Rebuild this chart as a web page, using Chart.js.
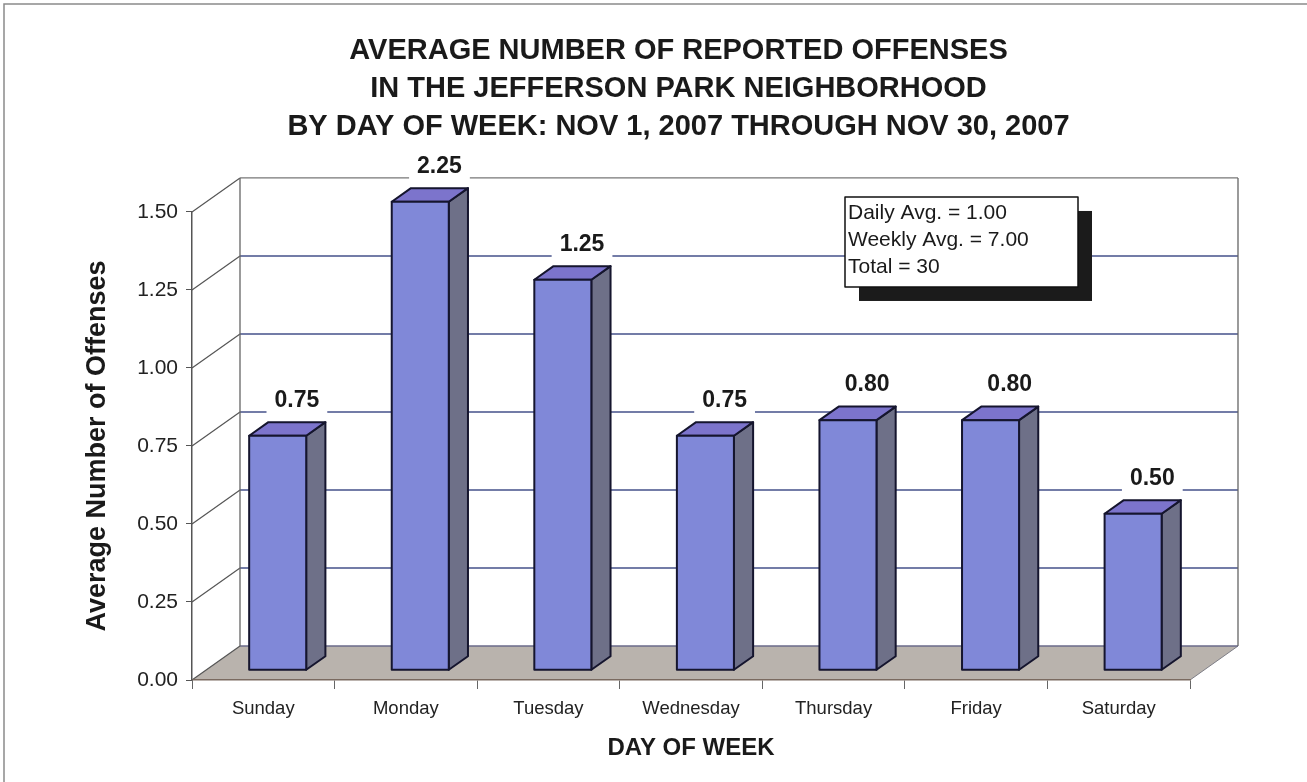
<!DOCTYPE html>
<html>
<head>
<meta charset="utf-8">
<script src="https://cdn.jsdelivr.net/npm/chart.js@4.4.1/dist/chart.umd.min.js"></script>
<style>
  html, body { margin: 0; padding: 0; background: #fff; }
  canvas { display: block; }
</style>
</head>
<body>
<canvas id="myChart" width="1307" height="782"></canvas>
<script>
// data
var days = ['Sunday', 'Monday', 'Tuesday', 'Wednesday', 'Thursday', 'Friday', 'Saturday'];
var avgOffenses = [0.75, 2.25, 1.25, 0.75, 0.80, 0.80, 0.50];
var yMin = 0;
var yMax = 1.5;
var yStep = 0.25;
var titleLines = [
  'AVERAGE NUMBER OF REPORTED OFFENSES',
  'IN THE JEFFERSON PARK NEIGHBORHOOD',
  'BY DAY OF WEEK: NOV 1, 2007 THROUGH NOV 30, 2007'
];
var statLines = ['Daily Avg. = 1.00', 'Weekly Avg. = 7.00', 'Total = 30'];

Chart.defaults.font.family = "'Liberation Sans', Arial, sans-serif";
Chart.defaults.color = '#1a1a1a';

// fake 3d: depth of the whole box, bars sit between 30% and 70% of it
var wallDepth = { dx: 48, dy: -34 };
var barFront = 0.3;
var barBack = 0.7;

const threeD = {
  id: 'threeD',
  beforeDraw(chart) {
    const ctx = chart.ctx;
    const area = chart.chartArea;
    const y = chart.scales.y;
    const dx = wallDepth.dx, dy = wallDepth.dy;

    ctx.save();
    // outer frame
    ctx.strokeStyle = '#8a8a8a';
    ctx.lineWidth = 1.5;
    ctx.strokeRect(4, 4, 1400, 900);

    // floor
    const y0 = y.getPixelForValue(yMin);
    ctx.fillStyle = '#b9b3ad';
    ctx.beginPath();
    ctx.moveTo(area.left, y0);
    ctx.lineTo(area.right, y0);
    ctx.lineTo(area.right + dx, y0 + dy);
    ctx.lineTo(area.left + dx, y0 + dy);
    ctx.closePath();
    ctx.fill();
    ctx.strokeStyle = '#7d7d85';
    ctx.lineWidth = 1;
    ctx.beginPath();
    ctx.moveTo(area.right, y0);
    ctx.lineTo(area.right + dx, y0 + dy);
    ctx.stroke();

    // gridlines on the back wall + diagonals on the left wall
    y.ticks.forEach(function(t) {
      const py = y.getPixelForValue(t.value);
      ctx.strokeStyle = t.value === yMin ? '#6a6a8a' : (t.value === yMax ? '#777' : '#44508a');
      ctx.lineWidth = 1.3;
      ctx.beginPath();
      ctx.moveTo(area.left + dx, py + dy);
      ctx.lineTo(area.right + dx, py + dy);
      ctx.stroke();
      ctx.strokeStyle = '#555';
      ctx.lineWidth = 1.2;
      ctx.beginPath();
      ctx.moveTo(area.left, py);
      ctx.lineTo(area.left + dx, py + dy);
      ctx.stroke();
    });

    // wall edges
    const yTop = y.getPixelForValue(yMax);
    ctx.strokeStyle = '#666';
    ctx.lineWidth = 1.3;
    ctx.beginPath();
    ctx.moveTo(area.left + dx, yTop + dy);
    ctx.lineTo(area.left + dx, y0 + dy);
    ctx.moveTo(area.right + dx, yTop + dy);
    ctx.lineTo(area.right + dx, y0 + dy);
    ctx.stroke();
    ctx.restore();
  },
  afterDatasetsDraw(chart) {
    const ctx = chart.ctx;
    const y = chart.scales.y;
    const meta = chart.getDatasetMeta(0);
    const fx = wallDepth.dx * barFront, fy = wallDepth.dy * barFront;
    const bx = wallDepth.dx * (barBack - barFront), by = wallDepth.dy * (barBack - barFront);

    ctx.save();
    ctx.lineJoin = 'round';
    meta.data.forEach(function(bar, i) {
      const v = Math.min(avgOffenses[i], yMax);
      const x0 = bar.x - bar.width / 2 + fx;
      const x1 = bar.x + bar.width / 2 + fx;
      const yb = y.getPixelForValue(yMin) + fy;
      const yt = y.getPixelForValue(v) + fy;

      ctx.strokeStyle = '#15152e';
      ctx.lineWidth = 2;

      // side
      ctx.fillStyle = '#6e7088';
      ctx.beginPath();
      ctx.moveTo(x1, yt);
      ctx.lineTo(x1 + bx, yt + by);
      ctx.lineTo(x1 + bx, yb + by);
      ctx.lineTo(x1, yb);
      ctx.closePath();
      ctx.fill();
      ctx.stroke();

      // top
      ctx.fillStyle = '#7c74cc';
      ctx.beginPath();
      ctx.moveTo(x0, yt);
      ctx.lineTo(x0 + bx, yt + by);
      ctx.lineTo(x1 + bx, yt + by);
      ctx.lineTo(x1, yt);
      ctx.closePath();
      ctx.fill();
      ctx.stroke();

      // front
      ctx.fillStyle = '#8088d8';
      ctx.fillRect(x0, yt, x1 - x0, yb - yt);
      ctx.strokeRect(x0, yt, x1 - x0, yb - yt);

      // value label on a white patch
      const txt = avgOffenses[i].toFixed(2);
      ctx.font = "bold 23px 'Liberation Sans', Arial, sans-serif";
      const tw = ctx.measureText(txt).width;
      const lx = (x0 + x1) / 2 + bx;
      const ly = yt + by - 22;
      ctx.fillStyle = '#fff';
      ctx.fillRect(lx - tw / 2 - 8, ly - 13, tw + 16, 26);
      ctx.fillStyle = '#1a1a1a';
      ctx.textAlign = 'center';
      ctx.textBaseline = 'middle';
      ctx.fillText(txt, lx, ly);
    });

    // stats box with drop shadow
    const area = chart.chartArea;
    const bxL = area.right - 345, bxT = area.top - 15, bw = 233, bh = 90;
    ctx.fillStyle = '#1b1b1b';
    ctx.fillRect(bxL + 14, bxT + 14, bw, bh);
    ctx.fillStyle = '#fff';
    ctx.fillRect(bxL, bxT, bw, bh);
    ctx.strokeStyle = '#111';
    ctx.lineWidth = 1.5;
    ctx.strokeRect(bxL, bxT, bw, bh);
    ctx.font = "21px 'Liberation Sans', Arial, sans-serif";
    ctx.fillStyle = '#1a1a1a';
    ctx.textAlign = 'left';
    ctx.textBaseline = 'middle';
    statLines.forEach(function(line, k) {
      ctx.fillText(line, bxL + 3, bxT + 16 + k * 27);
    });
    ctx.restore();
  }
};

const ctx = document.getElementById('myChart').getContext('2d');
new Chart(ctx, {
  type: 'bar',
  data: {
    labels: days,
    datasets: [{
      label: 'Average',
      data: avgOffenses,
      backgroundColor: 'rgba(0,0,0,0)',
      borderWidth: 0,
      barPercentage: 0.4,
      categoryPercentage: 1
    }]
  },
  options: {
    responsive: false,
    animation: false,
    events: [],
    layout: { padding: { left: 50, top: 0, right: 0, bottom: 0 } },
    plugins: {
      legend: { display: false },
      tooltip: { enabled: false },
      title: {
        display: true,
        text: titleLines,
        color: '#1a1a1a',
        font: { size: 29, weight: 'bold', lineHeight: 1.31 },
        padding: { top: 32, bottom: 66 }
      }
    },
    scales: {
      x: {
        offset: true,
        grid: { display: true, drawOnChartArea: false, offset: true, tickLength: 9, color: '#666' },
        border: { color: '#7a6a60', width: 1.5 },
        ticks: { font: { size: 18.5 }, color: '#222', padding: 9, maxRotation: 0 },
        title: {
          display: true,
          text: 'DAY OF WEEK',
          color: '#1a1a1a',
          font: { size: 24, weight: 'bold' },
          padding: { top: 0, bottom: 19 }
        },
        afterFit: function(scale) { scale.height = 102; }
      },
      y: {
        min: yMin,
        max: yMax,
        grid: { display: true, drawOnChartArea: false, tickLength: 6, color: '#555' },
        border: { color: '#555', width: 1.5 },
        ticks: {
          stepSize: yStep,
          font: { size: 21 },
          color: '#222',
          padding: 8,
          callback: function(v) { return v.toFixed(2); }
        },
        title: {
          display: true,
          text: 'Average Number of Offenses',
          color: '#1a1a1a',
          font: { size: 27, weight: 'bold' },
          padding: { top: 31, bottom: 0 }
        },
        afterFit: function(scale) { scale.width = 142; }
      },
      y2: {
        position: 'right',
        display: true,
        grid: { display: false },
        border: { display: false },
        ticks: { display: false },
        afterFit: function(scale) { scale.width = 117; }
      }
    }
  },
  plugins: [threeD]
});
</script>
</body>
</html>
